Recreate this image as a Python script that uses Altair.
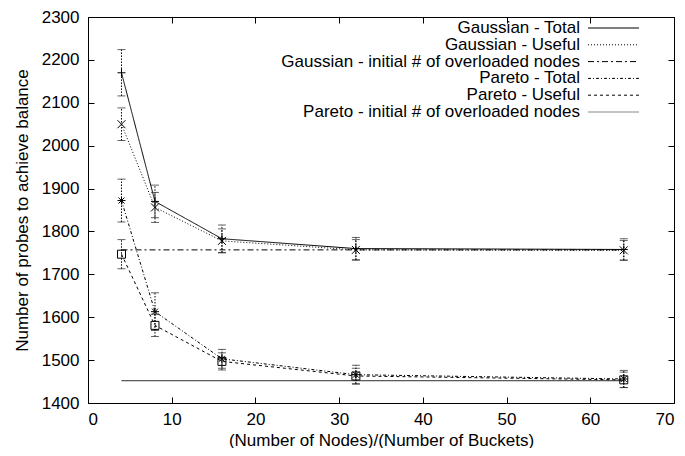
import altair as alt
import pandas as pd

# ---- data ----
x_vals = [4, 8, 16, 32, 64]

series_names = [
    "Gaussian - Total",
    "Gaussian - Useful",
    "Gaussian - initial # of overloaded nodes",
    "Pareto - Total",
    "Pareto - Useful",
    "Pareto - initial # of overloaded nodes",
]

gauss_total = [2170, 1870, 1783, 1760, 1758]
gauss_total_err = [54, 38, 32, 26, 25]
gauss_useful = [2050, 1856, 1778, 1757, 1756]
gauss_useful_err = [38, 35, 28, 24, 23]
gauss_initial = [1757, 1757, 1757, 1757, 1757]
pareto_total = [1872, 1613, 1503, 1466, 1456]
pareto_total_err = [50, 44, 22, 22, 20]
pareto_useful = [1747, 1581, 1497, 1463, 1454]
pareto_useful_err = [34, 26, 20, 18, 18]
pareto_initial = [1452, 1452, 1452, 1452, 1452]

x_ticks = [0, 10, 20, 30, 40, 50, 60, 70]
y_ticks = [1400, 1500, 1600, 1700, 1800, 1900, 2000, 2100, 2200, 2300]

# ---- styles ----
dashes = [[1, 0], [1, 2], [6, 3, 2, 3], [3, 2, 1, 2], [3, 3], [1, 0]]
legend_colors = ["black", "black", "black", "black", "black", "#888888"]
legend_widths = [1, 1, 1, 1, 1, 2]
marker_series = [series_names[0], series_names[1], series_names[3], series_names[4]]
marker_paths = [
    "M-1,0L1,0M0,-1L0,1",
    "M-1,-1L1,1M-1,1L1,-1",
    "M-1,0L1,0M0,-1L0,1M-0.75,-0.75L0.75,0.75M-0.75,0.75L0.75,-0.75",
    "M-1,-1L1,-1L1,1L-1,1Z",
]

all_series = [gauss_total, gauss_useful, gauss_initial, pareto_total, pareto_useful, pareto_initial]
line_rows = []
for name, vals in zip(series_names, all_series):
    for xv, yv in zip(x_vals, vals):
        line_rows.append({"series": name, "x": xv, "y": yv})
line_df = pd.DataFrame(line_rows)

err_series = [
    (series_names[0], gauss_total, gauss_total_err),
    (series_names[1], gauss_useful, gauss_useful_err),
    (series_names[3], pareto_total, pareto_total_err),
    (series_names[4], pareto_useful, pareto_useful_err),
]
err_rows = []
for name, vals, errs in err_series:
    for xv, yv, ev in zip(x_vals, vals, errs):
        err_rows.append({"series": name, "x": xv, "y": yv, "lo": yv - ev, "hi": yv + ev})
err_df = pd.DataFrame(err_rows)

legend_df = pd.DataFrame({"series": series_names})

FONT = "Liberation Sans"
FS = 17

xscale = alt.Scale(domain=[0, 70], nice=False, padding=0)
yscale = alt.Scale(domain=[1400, 2300], nice=False, zero=False, padding=0)
dash_scale = alt.Scale(domain=series_names, range=dashes)

inward = {"expr": "-6"}

# label axes (bottom / left) with inward ticks
x_lab = alt.Axis(orient="bottom", values=x_ticks, ticks=True, tickSize=inward, tickColor="black",
                 domain=False, grid=False, labelPadding=14,
                 title="(Number of Nodes)/(Number of Buckets)", titlePadding=5)
y_lab = alt.Axis(orient="left", values=y_ticks, format="d", ticks=True, tickSize=inward,
                 tickColor="black", domain=False, grid=False, labelPadding=15,
                 title="Number of probes to achieve balance", titlePadding=10)

# mirror axes (top / right) with inward ticks only
x_top = alt.Axis(orient="top", values=x_ticks, labels=False, ticks=True, tickSize=inward,
                 tickColor="black", domain=False, grid=False, title=None)
y_right = alt.Axis(orient="right", values=y_ticks, labels=False, ticks=True, tickSize=inward,
                   tickColor="black", domain=False, grid=False, title=None)

lines = alt.Chart(line_df).mark_line(color="black", strokeWidth=1).encode(
    x=alt.X("x:Q", scale=xscale, axis=x_lab),
    y=alt.Y("y:Q", scale=yscale, axis=y_lab),
    strokeDash=alt.StrokeDash("series:N", scale=dash_scale, legend=None),
    detail="series:N",
)

rules = alt.Chart(err_df).mark_rule(color="black", strokeWidth=1, strokeDash=[1.5, 1.5]).encode(
    x=alt.X("x:Q", scale=xscale, axis=None),
    y=alt.Y("lo:Q", scale=yscale, axis=None),
    y2="hi:Q",
)

points = alt.Chart(err_df).mark_point(filled=False, color="black", strokeWidth=1, size=64, opacity=1).encode(
    x=alt.X("x:Q", scale=xscale, axis=x_top),
    y=alt.Y("y:Q", scale=yscale, axis=y_right),
    shape=alt.Shape("series:N", scale=alt.Scale(domain=marker_series, range=marker_paths), legend=None),
)

caps_lo = alt.Chart(err_df).mark_tick(orient="horizontal", color="#222", size=8, thickness=1).encode(
    x=alt.X("x:Q", scale=xscale, axis=None),
    y=alt.Y("lo:Q", scale=yscale, axis=None),
)
caps_hi = alt.Chart(err_df).mark_tick(orient="horizontal", color="#222", size=8, thickness=1).encode(
    x=alt.X("x:Q", scale=xscale, axis=None),
    y=alt.Y("hi:Q", scale=yscale, axis=None),
)

plot = alt.layer(lines, rules, points, caps_lo, caps_hi).resolve_axis(
    x="independent", y="independent"
)

# in-plot legend (gnuplot style: right-aligned text, line sample to the right)
leg_y = alt.Y("series:N", sort=series_names, axis=None,
              scale=alt.Scale(type="point", domain=series_names, range=[11, 95], padding=0))
leg_text = alt.Chart(legend_df).mark_text(
    align="right", baseline="middle", font=FONT, fontSize=FS, color="black"
).encode(x=alt.value(492), y=leg_y, text="series:N")
leg_line = alt.Chart(legend_df).mark_rule().encode(
    x=alt.value(500), x2=alt.value(551), y=leg_y,
    strokeDash=alt.StrokeDash("series:N", scale=dash_scale, legend=None),
    color=alt.Color("series:N", scale=alt.Scale(domain=series_names, range=legend_colors), legend=None),
    strokeWidth=alt.StrokeWidth("series:N", scale=alt.Scale(domain=series_names, range=legend_widths), legend=None),
)
legend_layer = alt.layer(leg_text, leg_line)

chart = alt.layer(plot, legend_layer).resolve_scale(y="independent").properties(
    width=669, height=440,
    autosize=alt.AutoSizeParams(type="fit", contains="padding"),
    padding={"left": 5, "top": 0, "right": 2, "bottom": 0}, background="white"
).configure_view(
    stroke="black", strokeWidth=1
).configure_axis(
    labelFont=FONT, labelFontSize=FS, labelColor="black", titleFont=FONT, titleFontSize=FS,
    titleColor="black", titleFontWeight="normal"
)

chart.save("out.html", embed_options={"renderer": "svg", "actions": False})
